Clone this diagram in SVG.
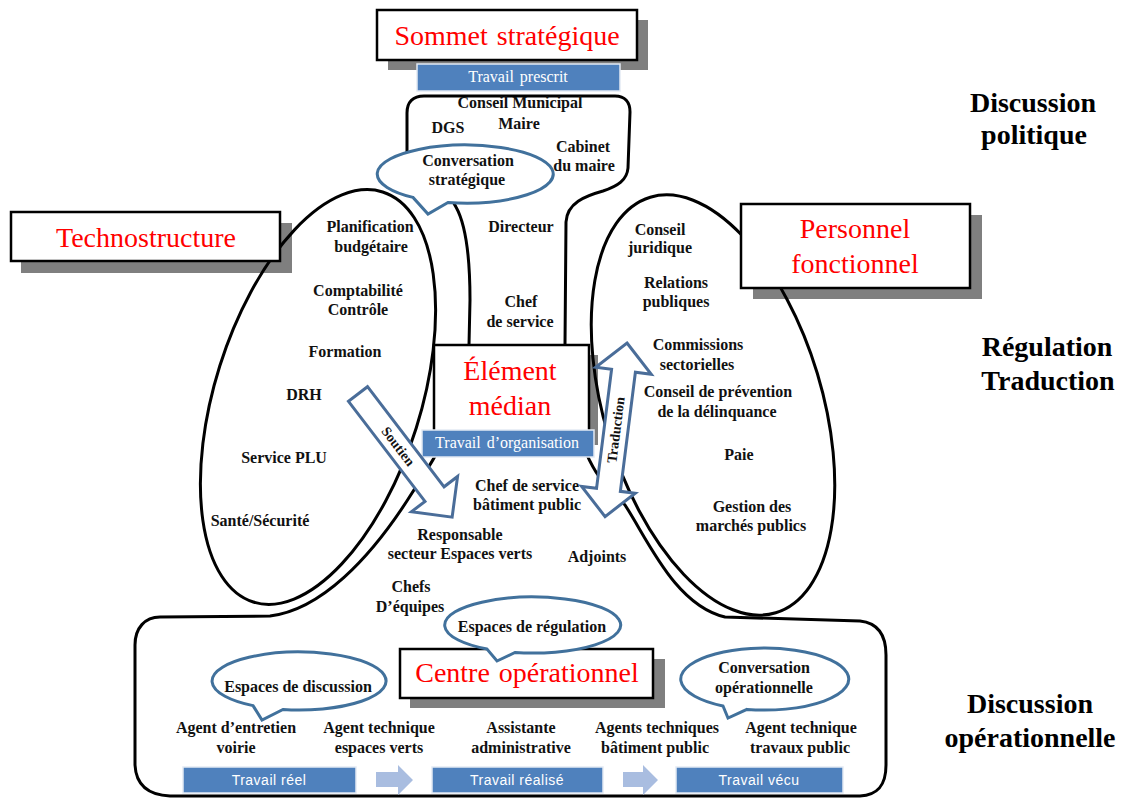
<svg xmlns="http://www.w3.org/2000/svg" width="1141" height="798" viewBox="0 0 1141 798">
<style>
.lbl{font-family:"Liberation Serif","Times New Roman",serif;font-weight:bold;font-size:16px;fill:#111;text-anchor:middle}
.title{font-family:"Liberation Serif","Times New Roman",serif;font-size:28px;fill:#ff0000;text-anchor:middle;word-spacing:2px}
.side{font-family:"Liberation Serif","Times New Roman",serif;font-weight:bold;font-size:28px;fill:#000;text-anchor:middle}
.wb{font-family:"Liberation Serif","Times New Roman",serif;font-size:16px;fill:#fff;text-anchor:middle;word-spacing:2px}
.ws{font-family:"Liberation Sans",Arial,sans-serif;font-size:14px;fill:#fff;text-anchor:middle;letter-spacing:0.5px}
.line{fill:none;stroke:#000;stroke-width:3}
.bub{fill:#fff;stroke:#41719c;stroke-width:3}
.arr{fill:#fff;stroke:#4a6d99;stroke-width:3}
.box{fill:#fff;stroke:#000;stroke-width:2.5}
.shd{fill:#7f7f7f}
.blue{fill:#4f81bd;stroke:#e3eaf4;stroke-width:1.5}
.larr{fill:#a9bde0}
</style>
<rect width="1141" height="798" fill="#fff"/>

<!-- shadows -->
<g id="shadows">
<rect class="shd" x="388" y="20" width="260" height="50"/>
<rect class="shd" x="21" y="223" width="271" height="50"/>
<rect class="shd" x="753" y="215" width="229" height="84"/>
<rect class="shd" x="444" y="355" width="154" height="90"/>
<rect class="shd" x="410" y="659" width="255" height="49"/>
</g>

<!-- structure outlines -->
<g id="connectors">
<path id="outline" class="line" d="M160,617 L270,616 C320,610 370,560 412,493 C440,450 466,410 469,345 L470,300 C470,260 466,225 456,207 C445,185 410,180 407,160 L407,113 C407,102 413,96 424,96 L615,96 C625,96 630,102 630,112 L628,168 C627,180 618,186 603,191 C585,196 567,203 566,222 L565,345 C566,400 580,450 600,478 C610,490 618,498 625,505 C648,540 675,605 725,617 L860,621 C878,623 886,635 886,655 L886,765 C886,785 878,795 860,796 L170,796 C148,795 136,785 135,765 L135,645 C135,628 145,617 160,617 Z"/>
<ellipse id="left-ellipse" class="line" cx="318" cy="397" rx="103" ry="215" transform="rotate(17.5 318 397)"/>
<ellipse id="right-ellipse" class="line" cx="713" cy="405" rx="109" ry="217" transform="rotate(-16.8 713 405)"/>
</g>

<!-- title boxes -->
<g id="sommet">
<rect class="box" x="377" y="10" width="260" height="50"/>
<text class="title" x="507" y="45">Sommet stratégique</text>
</g>
<g id="travail-prescrit">
<rect class="blue" x="417" y="64" width="203" height="27"/>
<text class="wb" x="518" y="82">Travail prescrit</text>
</g>
<g id="technostructure">
<rect class="box" x="11" y="212" width="269" height="49"/>
<text class="title" x="146" y="247">Technostructure</text>
</g>
<g id="personnel">
<rect class="box" x="741" y="204" width="229" height="84"/>
<text class="title" x="855" y="238">Personnel</text>
<text class="title" x="855" y="273">fonctionnel</text>
</g>
<g id="element-median">
<rect class="box" x="434" y="345" width="155" height="95"/>
<text class="title" x="510" y="380">Élément</text>
<text class="title" x="510" y="415">médian</text>
</g>
<g id="travail-organisation">
<rect class="blue" x="422" y="430" width="172" height="27"/>
<text class="wb" x="507" y="448">Travail d’organisation</text>
</g>
<g id="centre">
<rect class="box" x="400" y="649" width="253" height="49"/>
<text class="title" x="527" y="682">Centre opérationnel</text>
</g>

<!-- speech bubbles -->
<g id="bubble-strategique">
<path class="bub" d="M448,202.5 A88 29 0 1 0 413,197.4 L428,214 Z"/>
<text class="lbl" x="468" y="166">Conversation</text>
<text class="lbl" x="467" y="185">stratégique</text>
</g>
<g id="bubble-regulation">
<path class="bub" d="M515,652.5 A88 28 0 1 0 487,649 L497,661 Z"/>
<text class="lbl" x="532" y="632">Espaces de régulation</text>
</g>
<g id="bubble-discussion">
<path class="bub" d="M283,709.5 A87 29 0 1 0 253,705.6 L262,720 Z"/>
<text class="lbl" x="298" y="692">Espaces de discussion</text>
</g>
<g id="bubble-operationnelle">
<path class="bub" d="M747,709.4 A84 31 0 1 0 723,706 L728,718 Z"/>
<text class="lbl" x="764" y="673">Conversation</text>
<text class="lbl" x="764" y="693">opérationnelle</text>
</g>

<!-- block arrows -->
<g id="soutien" transform="translate(358 394) rotate(52.6)">
<path class="arr" d="M0,-12 L126,-12 L126,-29 L155,0 L126,29 L126,12 L0,12 Z"/>
<text class="lbl" x="66" y="0" dominant-baseline="central" style="font-size:14px">Soutien</text>
</g>
<g id="traduction">
<path class="arr" transform="translate(627 343) rotate(97.2)" d="M0,0 L28,-28 L28,-12 L148,-12 L148,-27 L175,0 L148,27 L148,12 L28,12 L28,28 Z"/>
<text class="lbl" transform="translate(616 430) rotate(-82.8)" x="0" y="0" dominant-baseline="central" style="font-size:14px">Traduction</text>
</g>

<!-- bottom work flow -->
<g id="travail-reel">
<rect class="blue" x="183" y="767" width="173" height="26"/>
<text class="ws" x="269" y="785">Travail réel</text>
</g>
<path class="larr" d="M376,772 L398,772 L398,765 L413,780 L398,795 L398,787 L376,787 Z"/>
<g id="travail-realise">
<rect class="blue" x="432" y="767" width="171" height="26"/>
<text class="ws" x="517" y="785">Travail réalisé</text>
</g>
<path class="larr" d="M623,772 L643,772 L643,765 L658,780 L643,795 L643,787 L623,787 Z"/>
<g id="travail-vecu">
<rect class="blue" x="676" y="767" width="167" height="26"/>
<text class="ws" x="759" y="785">Travail vécu</text>
</g>

<!-- labels -->
<g id="labels">
<text class="lbl" x="520" y="108">Conseil Municipal</text>
<text class="lbl" x="519" y="129">Maire</text>
<text class="lbl" x="448" y="133">DGS</text>
<text class="lbl" x="583" y="152">Cabinet</text>
<text class="lbl" x="584" y="171">du maire</text>
<text class="lbl" x="521" y="232">Directeur</text>
<text class="lbl" x="521" y="307">Chef</text>
<text class="lbl" x="520" y="327">de service</text>
<text class="lbl" x="370" y="232">Planification</text>
<text class="lbl" x="371" y="252">budgétaire</text>
<text class="lbl" x="358" y="296">Comptabilité</text>
<text class="lbl" x="358" y="315">Contrôle</text>
<text class="lbl" x="345" y="357">Formation</text>
<text class="lbl" x="304" y="400">DRH</text>
<text class="lbl" x="284" y="463">Service PLU</text>
<text class="lbl" x="260" y="526">Santé/Sécurité</text>
<text class="lbl" x="527" y="491">Chef de service</text>
<text class="lbl" x="527" y="510">bâtiment public</text>
<text class="lbl" x="460" y="540">Responsable</text>
<text class="lbl" x="460" y="559">secteur Espaces verts</text>
<text class="lbl" x="597" y="562">Adjoints</text>
<text class="lbl" x="411" y="592">Chefs</text>
<text class="lbl" x="410" y="612">D’équipes</text>
<text class="lbl" x="660" y="235">Conseil</text>
<text class="lbl" x="660" y="253">juridique</text>
<text class="lbl" x="676" y="288">Relations</text>
<text class="lbl" x="676" y="307">publiques</text>
<text class="lbl" x="698" y="350">Commissions</text>
<text class="lbl" x="697" y="370">sectorielles</text>
<text class="lbl" x="718" y="397">Conseil de prévention</text>
<text class="lbl" x="717" y="417">de la délinquance</text>
<text class="lbl" x="739" y="460">Paie</text>
<text class="lbl" x="752" y="512">Gestion des</text>
<text class="lbl" x="751" y="531">marchés publics</text>
<text class="lbl" x="236" y="733">Agent d’entretien</text>
<text class="lbl" x="236" y="753">voirie</text>
<text class="lbl" x="379" y="733">Agent technique</text>
<text class="lbl" x="379" y="753">espaces verts</text>
<text class="lbl" x="521" y="733">Assistante</text>
<text class="lbl" x="521" y="753">administrative</text>
<text class="lbl" x="657" y="733">Agents techniques</text>
<text class="lbl" x="655" y="753">bâtiment public</text>
<text class="lbl" x="801" y="733">Agent technique</text>
<text class="lbl" x="800" y="753">travaux public</text>
</g>

<g id="levels">
<text class="side" x="1033" y="112">Discussion</text>
<text class="side" x="1034" y="144">politique</text>
<text class="side" x="1047" y="356">Régulation</text>
<text class="side" x="1048" y="390">Traduction</text>
<text class="side" x="1030" y="713">Discussion</text>
<text class="side" x="1030" y="747">opérationnelle</text>
</g>
</svg>
